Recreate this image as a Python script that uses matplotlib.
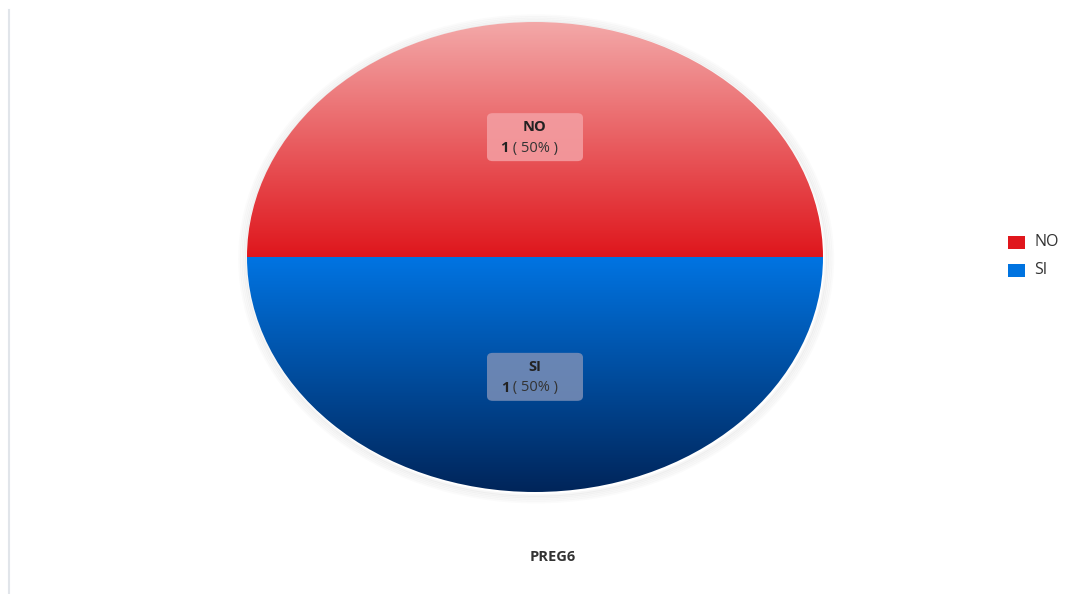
import numpy as np
import matplotlib.pyplot as plt
from matplotlib.colors import LinearSegmentedColormap
from matplotlib.patches import FancyBboxPatch, Ellipse
from matplotlib.lines import Line2D

plt.rcParams['font.family'] = ['Open Sans', 'DejaVu Sans']

categories = ["NO", "SI"]
counts = [1, 1]
title = "PREG6"

# gradient ends per slice: (outer edge, centre edge)
grad_colors = {
    "NO": ("#f3a8a8", "#df161c"),
    "SI": ("#00255a", "#0074e2"),
}
legend_colors = {"NO": "#e0161c", "SI": "#0073e0"}
box_colors = {"NO": "#f4a0a4", "SI": "#7b8fb7"}

W, H = 1087, 594
fig = plt.figure(figsize=(W / 100, H / 100), dpi=100)
fig.patch.set_facecolor("white")

# left border line
fig.add_artist(Line2D([9 / W, 9 / W], [0, 1 - 10 / H], color="#e1e5ea", lw=1.5))

ax = fig.add_axes([247 / W, 1 - 492 / H, 576 / W, 470 / H])
ax.axis("off")

# soft shadow
for i, a in enumerate([0.035, 0.03, 0.025, 0.02, 0.015]):
    ax.add_patch(Ellipse((0.004, -0.008), 2 + 0.012 * (i + 1), 2 + 0.014 * (i + 1),
                         facecolor="none", edgecolor="black", lw=2, alpha=a,
                         zorder=0, clip_on=False))

wedges, _ = ax.pie(counts, startangle=0, counterclock=True, radius=1.0,
                   colors=["none", "none"], wedgeprops=dict(linewidth=0))
ax.set_xlim(-1.0, 1.0)
ax.set_ylim(-1.0, 1.0)
ax.set_aspect("auto")

yy = np.linspace(1, -1, 400).reshape(-1, 1)
for w, cat in zip(wedges, categories):
    c_out, c_mid = grad_colors[cat]
    cmap = LinearSegmentedColormap.from_list(cat, [c_mid, c_out])
    vals = np.abs(yy) * np.ones((1, 2))
    im = ax.imshow(vals, cmap=cmap, vmin=0, vmax=1, extent=(-1, 1, -1, 1),
                   aspect="auto", interpolation="bilinear", zorder=1)
    im.set_clip_path(w)

total = sum(counts)
px_x, px_y = 2 / 576, 2 / 470
for w, cat, n in zip(wedges, categories, counts):
    ang = np.deg2rad((w.theta1 + w.theta2) / 2)
    cx, cy = 0.51 * np.cos(ang), 0.51 * np.sin(ang)
    bw, bh = 96 * px_x, 48 * px_y
    ax.add_patch(FancyBboxPatch((cx - bw / 2, cy - bh / 2), bw, bh,
                                boxstyle="round,pad=0,rounding_size=0.02",
                                facecolor=box_colors[cat], edgecolor="none",
                                alpha=0.85, zorder=3))
    ax.text(cx, cy + 10 * px_y, cat, ha="center", va="center", fontsize=10.5,
            fontweight="bold", color="#222222", zorder=4)
    pct = 100 * n / total
    ax.text(cx - 26 * px_x, cy - 11 * px_y, f"{n}", ha="right", va="center",
            fontsize=10.5, fontweight="bold", color="#222222", zorder=4)
    ax.text(cx - 26 * px_x, cy - 11 * px_y, f" ( {pct:.0f}% )", ha="left",
            va="center", fontsize=10.5, color="#333333", zorder=4)

# legend
for i, cat in enumerate(categories):
    y = 1 - (242 + 28 * i) / H
    fig.patches.append(plt.Rectangle((1008 / W, y - 6.5 / H), 17 / W, 13 / H,
                                     facecolor=legend_colors[cat], edgecolor="none",
                                     transform=fig.transFigure, figure=fig))
    fig.text(1034 / W, y, cat, ha="left", va="center", fontsize=11.5, color="#333333")

fig.text(553 / W, 1 - 557 / H, title, ha="center", va="center", fontsize=10.5,
         fontweight="bold", color="#333333")

fig.savefig("out.png", dpi=100)
